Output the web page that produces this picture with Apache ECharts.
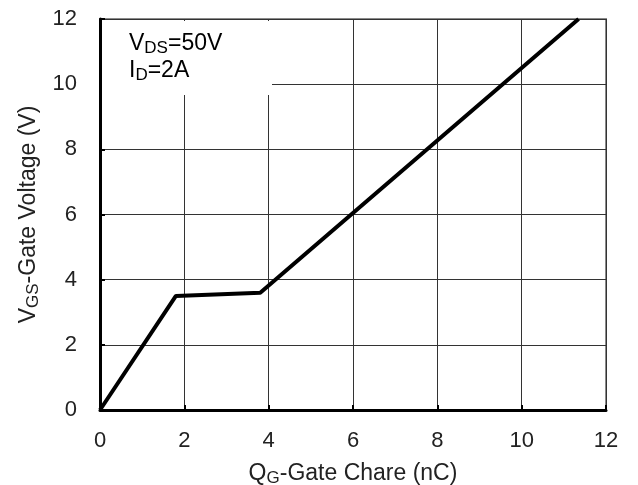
<!DOCTYPE html>
<html>
<head>
<meta charset="utf-8">
<script src="https://cdn.jsdelivr.net/npm/echarts@6/dist/echarts.min.js"></script>
<style>
  html, body { margin: 0; padding: 0; background: #fff; }
  #chart { width: 638px; height: 485px; }
</style>
</head>
<body>
<div id="chart"></div>
<script>
// gate charge curve
const qg = [0, 1.8, 3.8, 11.35];
const vgs = [0, 3.5, 3.6, 12];
const xTicks = [0, 2, 4, 6, 8, 10, 12];
const yTicks = [0, 2, 4, 6, 8, 10, 12];

const chart = echarts.init(document.getElementById('chart'));

const font = 'Liberation Sans, Arial, sans-serif';
const nameRich = {
  m: { fontFamily: font, fontSize: 23, color: '#222' },
  s: { fontFamily: font, fontSize: 17, color: '#222', verticalAlign: 'bottom', padding: [9, 0, 0, 0] }
};

chart.setOption({
  animation: false,
  grid: {
    left: 100, right: 32, top: 19, bottom: 75,
    outerBoundsMode: 'none',
    containLabel: false,
    show: true,
    borderColor: '#8a8a8a',
    borderWidth: 2
  },
  xAxis: {
    type: 'value',
    min: xTicks[0], max: xTicks[xTicks.length - 1], interval: 2,
    name: '{m|Q}{s|G}{m|-Gate Chare (nC)}',
    nameLocation: 'middle',
    nameGap: 51,
    nameTextStyle: { rich: nameRich },
    axisLine: { lineStyle: { color: '#000', width: 3 } },
    axisTick: { inside: true, length: 5, lineStyle: { color: '#000', width: 2 } },
    axisLabel: { fontFamily: font, fontSize: 22, color: '#222', margin: 20 },
    splitLine: { lineStyle: { color: '#333', width: 1 } }
  },
  yAxis: {
    type: 'value',
    min: yTicks[0], max: yTicks[yTicks.length - 1], interval: 2,
    name: '{m|V}{s|GS}{m|-Gate Voltage (V)}',
    nameLocation: 'middle',
    nameRotate: 90,
    nameGap: 58,
    nameTextStyle: { rich: nameRich },
    axisLine: { lineStyle: { color: '#000', width: 3 } },
    axisTick: { inside: true, length: 5, lineStyle: { color: '#000', width: 2 } },
    axisLabel: { fontFamily: font, fontSize: 22, color: '#222', margin: 23 },
    splitLine: { lineStyle: { color: '#333', width: 1 } }
  },
  graphic: [
    {
      type: 'rect', z: 10,
      shape: { x: 102, y: 21, width: 170, height: 74 },
      style: { fill: '#fff' }
    },
    {
      type: 'text', z: 11, left: 129, top: 31,
      style: {
        text: '{m|V}{s|DS}{m|=50V}\n{m|I}{s|D}{m|=2A}',
        rich: {
          m: { fontFamily: font, fontSize: 23, color: '#222', lineHeight: 27 },
          s: { fontFamily: font, fontSize: 17, color: '#222', lineHeight: 27, padding: [9, 0, 0, 0] }
        }
      }
    }
  ],
  series: [{
    type: 'line',
    data: qg.map((x, i) => [x, vgs[i]]),
    showSymbol: false,
    lineStyle: { color: '#000', width: 4 },
    clip: true
  }]
});
</script>
</body>
</html>
